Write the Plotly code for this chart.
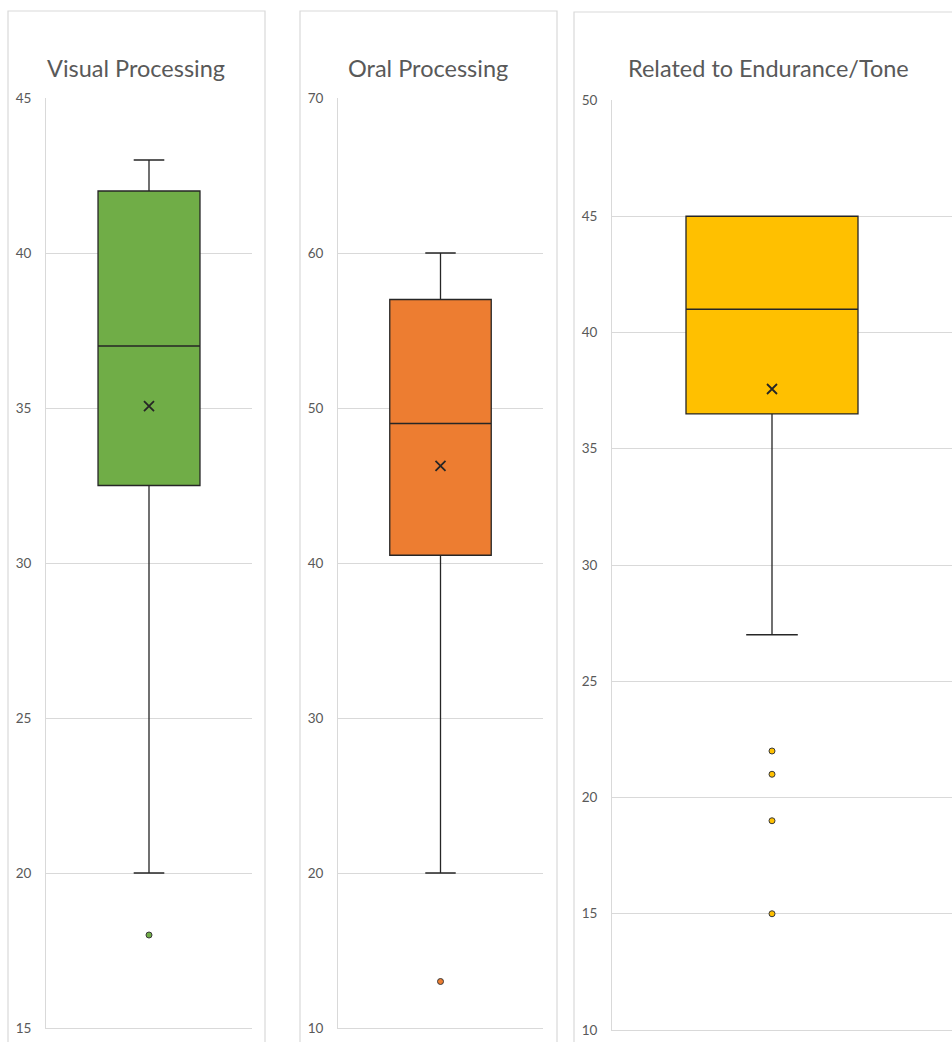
import plotly.graph_objects as go

# Summary statistics for each panel
titles = ["Visual Processing", "Oral Processing", "Related to Endurance/Tone"]
colors = ["#70AD47", "#ED7D31", "#FFC000"]
q1_vals = [32.5, 40.5, 36.5]
median_vals = [37, 49, 41]
q3_vals = [42, 57, 45]
lower_whisker = [20, 20, 27]
upper_whisker = [43, 60, 45]
mean_vals = [35.06, 46.26, 37.57]
outliers = [[18], [13], [22, 21, 19, 15]]
y_ranges = [[15, 45], [10, 70], [10, 50]]
y_dticks = [5, 10, 5]

W, H = 952, 1042
GRID = "#D9D9D9"
TEXT = "#595959"
EDGE = "#262626"

# Pixel layout of the three panels: plot-area x span, y span, x-range, box width
plot_x = [(46, 252), (338, 543), (612, 952)]
plot_y = [(98, 1028), (98, 1028), (100, 1030)]
x_ranges = [[-1, 1], [-1, 1], [-1, 1.125]]
box_widths = [0.99, 0.99, 1.075]
frames = [(8, 265, 11), (300, 557, 11), (574, 960, 12)]
title_x = [136, 428, 768]

fig = go.Figure()

for i in range(3):
    xa = "x" if i == 0 else f"x{i+1}"
    ya = "y" if i == 0 else f"y{i+1}"
    fig.add_trace(go.Box(
        x=[0],
        q1=[q1_vals[i]], median=[median_vals[i]], q3=[q3_vals[i]],
        lowerfence=[lower_whisker[i]], upperfence=[upper_whisker[i]],
        width=box_widths[i], whiskerwidth=0.3,
        fillcolor=colors[i],
        line=dict(color=EDGE, width=1.3),
        boxpoints=False,
        hoverinfo="skip",
        xaxis=xa, yaxis=ya,
        showlegend=False,
    ))
    fig.add_trace(go.Scatter(
        x=[0], y=[mean_vals[i]], mode="markers",
        marker=dict(symbol="x-thin", size=10,
                    line=dict(color=EDGE, width=1.8)),
        xaxis=xa, yaxis=ya, showlegend=False, hoverinfo="skip",
    ))
    fig.add_trace(go.Scatter(
        x=[0] * len(outliers[i]), y=outliers[i], mode="markers",
        marker=dict(symbol="circle", size=6, color=colors[i],
                    line=dict(color="#3A3A3A", width=1)),
        xaxis=xa, yaxis=ya, showlegend=False, hoverinfo="skip",
    ))

    x0, x1 = plot_x[i]
    yt, yb = plot_y[i]
    xkey = "xaxis" if i == 0 else f"xaxis{i+1}"
    ykey = "yaxis" if i == 0 else f"yaxis{i+1}"
    fig.update_layout(**{
        xkey: dict(domain=[x0 / W, min(x1 / W, 1)], range=x_ranges[i],
                   showgrid=False, zeroline=False, showticklabels=False,
                   showline=True, linecolor=GRID, linewidth=1,
                   automargin=False, anchor=ya),
        ykey: dict(domain=[1 - yb / H, 1 - yt / H], range=y_ranges[i],
                   dtick=y_dticks[i], tick0=0,
                   showgrid=True, gridcolor=GRID, gridwidth=1,
                   zeroline=False, showline=True, linecolor=GRID,
                   linewidth=1, ticks="", ticklabelstandoff=11,
                   automargin=False,
                   tickfont=dict(family="Lato", size=13.5, color=TEXT),
                   anchor=xa),
    })

    # Panel frame and title
    fx0, fx1, fy0 = frames[i]
    fig.add_shape(type="rect", xref="paper", yref="paper",
                  x0=fx0 / W, x1=fx1 / W, y0=-0.05, y1=1 - fy0 / H,
                  line=dict(color=GRID, width=1.2), layer="below")
    fig.add_annotation(text=titles[i], xref="paper", yref="paper",
                       x=title_x[i] / W, y=1 - 68 / H,
                       xanchor="center", yanchor="middle", showarrow=False,
                       font=dict(family="Lato", size=23.5, color=TEXT))

fig.update_layout(
    width=W, height=H,
    margin=dict(l=0, r=0, t=0, b=0, pad=0),
    paper_bgcolor="white", plot_bgcolor="white",
)

fig.write_html("out.html")
